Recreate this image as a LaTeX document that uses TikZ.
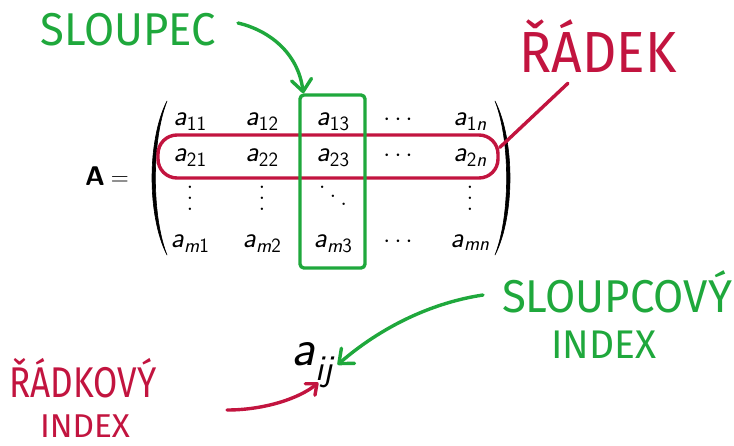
\documentclass[tikz,border=0pt]{standalone}
\usepackage{fontspec}
\usepackage{graphicx}
\usetikzlibrary{arrows.meta,calc}
\newfontfamily\hand{Fira Sans}
\definecolor{hgreen}{HTML}{1FA83C}
\definecolor{hred}{HTML}{C2143F}
\newcommand\hw[3]{\resizebox{#2pt}{\height}{\hand\fontsize{#1}{#1}\selectfont #3}}
\newcommand\ent[1]{\textit{a}\textsubscript{#1}}
\newcommand\Vdots{\vbox{\baselineskip11pt\lineskiplimit0pt\hbox{$.$}\hbox{$.$}\hbox{$.$}}}
\newcommand\Ddots{\mbox{\raisebox{17pt}{$.$}\kern4pt\raisebox{8.5pt}{$.$}\kern4pt\raisebox{0pt}{$.$}}}
\begin{document}
\begin{tikzpicture}[x=1pt,y=-1pt,
  hand/.style={inner sep=0pt, anchor=base},
  ink/.style={line width=3.4pt, line cap=round, line join=round},
  mat/.style={inner sep=0pt, anchor=base, font=\sffamily\fontsize{29}{33}\selectfont},
  paren/.style={fill=black, draw=black, line width=0.6pt, line join=round},
  tip/.style={-{Straight Barb[round,length=12pt,width=20pt]}},
  smalltip/.style={-{Straight Barb[round,length=9pt,width=15pt]}}
]
\useasboundingbox (0,0) rectangle (734,445);

% matrix
\node[mat, anchor=base west, font=\sffamily\fontsize{27}{31}\selectfont] (A) at (85,185) {\textbf{A}\kern6pt$=$};
\path[paren] (167,101) .. controls (147,140) and (147,216) .. (167,255)
   .. controls (151.5,216) and (151.5,140) .. (167,101) -- cycle;
\path[paren] (495,101) .. controls (515,140) and (515,216) .. (495,255)
   .. controls (510.5,216) and (510.5,140) .. (495,101) -- cycle;

\node[mat] (a11) at (190,125) {\ent{11}};
\node[mat] (a12) at (262,125) {\ent{12}};
\node[mat] (a13) at (333,125) {\ent{13}};
\node[mat] (c1)  at (398,125) {$\cdots$};
\node[mat] (a1n) at (470,125) {\ent{1\textit{n}}};

\node[mat] (a21) at (190,161) {\ent{21}};
\node[mat] (a22) at (262,161) {\ent{22}};
\node[mat] (a23) at (333,161) {\ent{23}};
\node[mat] (c2)  at (398,161) {$\cdots$};
\node[mat] (a2n) at (470,161) {\ent{2\textit{n}}};

\node[mat, anchor=center] (v1) at (190,198) {\Vdots};
\node[mat, anchor=center] (v2) at (262,198) {\Vdots};
\node[mat, anchor=center] (d3) at (333,196) {\Ddots};
\node[mat, anchor=center] (v5) at (470,198) {\Vdots};

\node[mat] (am1) at (190,247) {\ent{\textit{m}1}};
\node[mat] (am2) at (262,247) {\ent{\textit{m}2}};
\node[mat] (am3) at (333,247) {\ent{\textit{m}3}};
\node[mat] (c4)  at (398,247) {$\cdots$};
\node[mat] (amn) at (470,247) {\ent{\textit{mn}}};

% highlight boxes
\node[draw=hred, ink, rounded corners=19pt, minimum width=340pt, minimum height=43pt, inner sep=0pt] (row) at (328,156.5) {};
\node[draw=hgreen, ink, rounded corners=4pt, minimum width=65pt, minimum height=173pt, inner sep=0pt] (col) at (332.5,181.5) {};

% labels
\node[hand, text=hgreen] (sloupec) at (128,45) {\hw{46}{175}{SLOUPEC}};
\node[hand, text=hred] (radek) at (598,72) {\hw{58}{157}{ŘÁDEK}};
\node[hand, text=hgreen] (scol) at (617,312) {\hw{46}{230}{SLOUPCOVÝ}};
\node[hand, text=hgreen] (sidx) at (604,358) {\hw{40}{105}{INDEX}};
\node[hand, text=hred] (rkov) at (83,397) {\hw{43}{147}{ŘÁDKOVÝ}};
\node[hand, text=hred] (ridx) at (85,437) {\hw{33}{90}{INDEX}};

\node[inner sep=0pt, anchor=base west, font=\sffamily\fontsize{52}{60}\selectfont] (aij) at (291,365) {\ent{\textit{ij}}};

% connectors
\coordinate (s0) at (238,23);
\draw[ink, hgreen, tip] (s0) .. controls (268,30) and (298,52) .. ([xshift=5pt]col.north west);
\draw[ink, hred] ([yshift=9pt]row.east) -- ($(radek.south)+(-30,11)$);
\coordinate (g0) at (483,295);
\draw[ink, hgreen, tip] (g0) .. controls (430,303) and (380,328) .. ([xshift=2pt]aij.east);
\coordinate (r0) at (227,410);
\draw[ink, hred, smalltip] (r0) .. controls (265,410) and (300,398) .. ([xshift=5pt,yshift=5pt]aij.south);
\end{tikzpicture}
\end{document}
